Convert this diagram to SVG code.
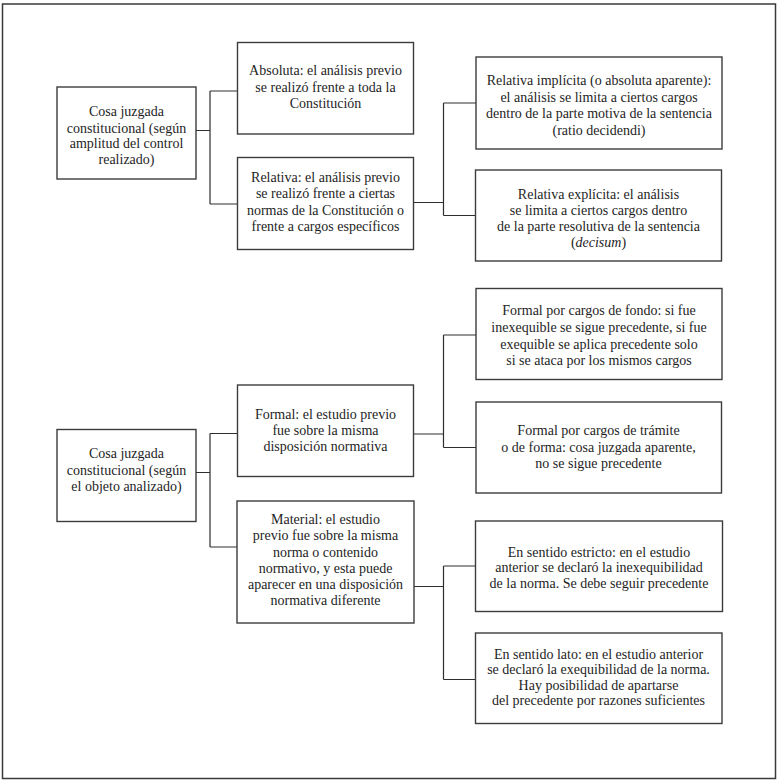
<svg xmlns="http://www.w3.org/2000/svg" width="780" height="783" viewBox="0 0 780 783">
<style>
.frame{fill:#fff;stroke:#3a3a3a;stroke-width:1.5}
.box{fill:#fff;stroke:#3c3c3c;stroke-width:1.4}
.conn{fill:none;stroke:#2e2e2e;stroke-width:1.2}
.t{font-family:'Liberation Serif','Times New Roman',Times,'DejaVu Serif',serif;font-size:14px;fill:#1e1e1e;text-anchor:middle}
</style>
<rect x="0" y="0" width="780" height="783" fill="#fff"/>
<rect class="frame" x="2.5" y="4" width="773" height="774.5"/>
<g id="connectors">
<path class="conn" d="M196,130.5H210M210,91V204M210,91H237.5M210,204H237.5"/>
<path class="conn" d="M413.5,202.5H443.5M443.5,103V215.5M443.5,103H476M443.5,215.5H475.5"/>
<path class="conn" d="M196,472.5H210M210,433.5V547M210,433.5H237.5M210,547H237"/>
<path class="conn" d="M413.5,434H443.5M443.5,335V447.5M443.5,335H476M443.5,447.5H476"/>
<path class="conn" d="M414,586.5H443.5M443.5,566V679.5M443.5,566H475.5M443.5,679.5H475.5"/>
</g>
<g class="t" font-family="Liberation Serif, Times New Roman, serif">
<g id="n-amplitud">
<rect class="box" x="57" y="87" width="139" height="92"/>
<text x="126.5" y="116">Cosa juzgada</text>
<text x="126.5" y="132.5">constitucional (según</text>
<text x="126.5" y="148">amplitud del control</text>
<text x="126.5" y="163.5">realizado)</text>
</g>
<g id="n-absoluta">
<rect class="box" x="237.5" y="42.5" width="176" height="91.5"/>
<text x="325.5" y="74.5">Absoluta: el análisis previo</text>
<text x="325.5" y="91.5">se realizó frente a toda la</text>
<text x="325.5" y="108">Constitución</text>
</g>
<g id="n-relativa">
<rect class="box" x="237.5" y="157.5" width="176" height="92"/>
<text x="325.5" y="181.5">Relativa: el análisis previo</text>
<text x="325.5" y="198">se realizó frente a ciertas</text>
<text x="325.5" y="214.5">normas de la Constitución o</text>
<text x="325.5" y="231">frente a cargos específicos</text>
</g>
<g id="n-implicita">
<rect class="box" x="476" y="57" width="246" height="92"/>
<text x="599" y="84.5">Relativa implícita (o absoluta aparente):</text>
<text x="599" y="101.5">el análisis se limita a ciertos cargos</text>
<text x="599" y="118">dentro de la parte motiva de la sentencia</text>
<text x="599" y="134.5">(ratio decidendi)</text>
</g>
<g id="n-explicita">
<rect class="box" x="475.5" y="170" width="246" height="91"/>
<text x="598.5" y="198.5">Relativa explícita: el análisis</text>
<text x="598.5" y="214.5">se limita a ciertos cargos dentro</text>
<text x="598.5" y="230.5">de la parte resolutiva de la sentencia</text>
<text x="598.5" y="246.5">(<tspan font-style="italic">decisum</tspan>)</text>
</g>
<g id="n-objeto">
<rect class="box" x="57" y="429.5" width="139" height="92"/>
<text x="126.5" y="458">Cosa juzgada</text>
<text x="126.5" y="474.5">constitucional (según</text>
<text x="126.5" y="491">el objeto analizado)</text>
</g>
<g id="n-formal">
<rect class="box" x="237.5" y="385" width="176" height="91.5"/>
<text x="325.5" y="418.5">Formal: el estudio previo</text>
<text x="325.5" y="434.5">fue sobre la misma</text>
<text x="325.5" y="450.5">disposición normativa</text>
</g>
<g id="n-fondo">
<rect class="box" x="476" y="288.5" width="246" height="91"/>
<text x="599" y="314.5">Formal por cargos de fondo: si fue</text>
<text x="599" y="331.5">inexequible se sigue precedente, si fue</text>
<text x="599" y="348.5">exequible se aplica precedente solo</text>
<text x="599" y="365">si se ataca por los mismos cargos</text>
</g>
<g id="n-tramite">
<rect class="box" x="476" y="402" width="245.5" height="91"/>
<text x="598.5" y="435">Formal por cargos de trámite</text>
<text x="598.5" y="451.5">o de forma: cosa juzgada aparente,</text>
<text x="598.5" y="468">no se sigue precedente</text>
</g>
<g id="n-material">
<rect class="box" x="237" y="501" width="177" height="122"/>
<text x="325.5" y="523.5">Material: el estudio</text>
<text x="325.5" y="540">previo fue sobre la misma</text>
<text x="325.5" y="556.5">norma o contenido</text>
<text x="325.5" y="573">normativo, y esta puede</text>
<text x="325.5" y="589">aparecer en una disposición</text>
<text x="325.5" y="605">normativa diferente</text>
</g>
<g id="n-estricto">
<rect class="box" x="475.5" y="521" width="247" height="90.5"/>
<text x="599" y="556.5">En sentido estricto: en el estudio</text>
<text x="599" y="572">anterior se declaró la inexequibilidad</text>
<text x="599" y="588">de la norma. Se debe seguir precedente</text>
</g>
<g id="n-lato">
<rect class="box" x="475.5" y="633" width="246.5" height="90.5"/>
<text x="598.5" y="658.5">En sentido lato: en el estudio anterior</text>
<text x="598.5" y="674">se declaró la exequibilidad de la norma.</text>
<text x="598.5" y="689.5">Hay posibilidad de apartarse</text>
<text x="598.5" y="705">del precedente por razones suficientes</text>
</g>
</g>
</svg>
